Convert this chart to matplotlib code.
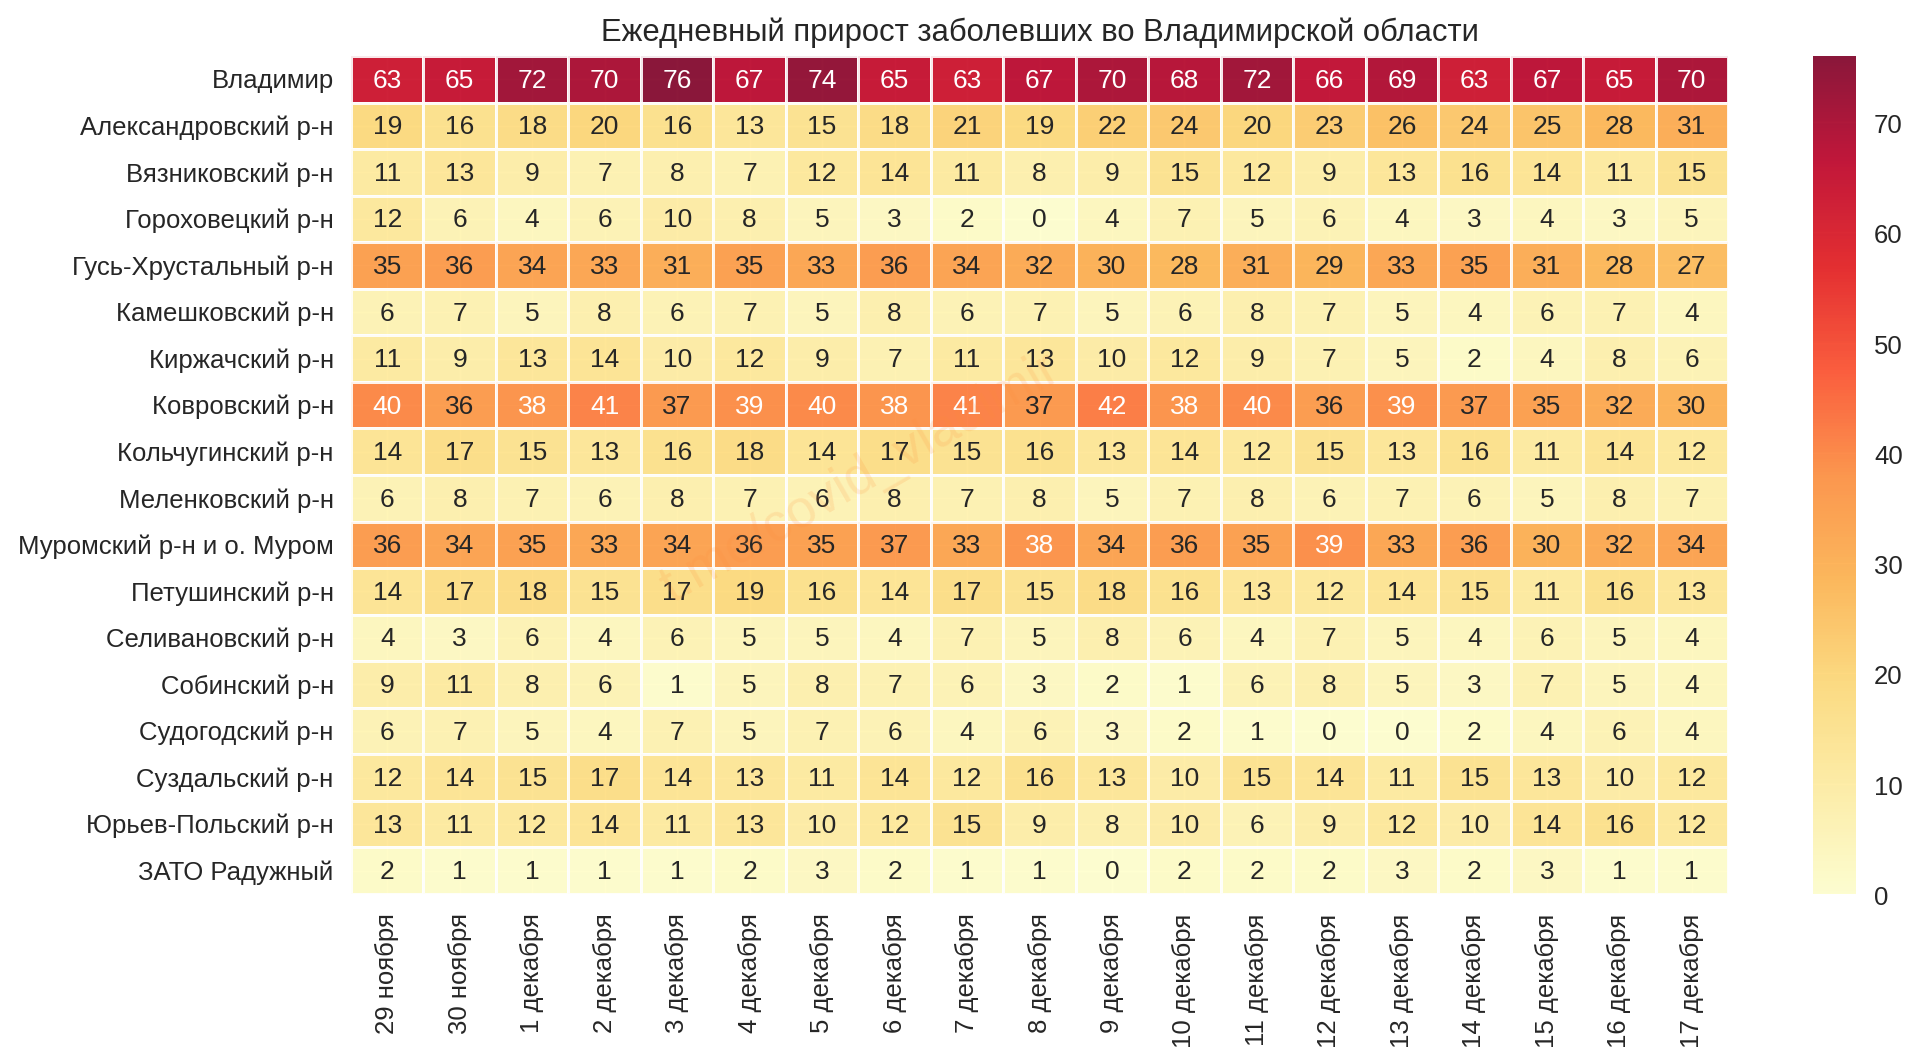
#!/usr/bin/env python3

import numpy as np
import seaborn as sns
from matplotlib import pyplot as plt
from matplotlib.transforms import ScaledTranslation

sns.set_theme(style="darkgrid")
plt.rcParams['font.family'] = ['Liberation Sans', 'DejaVu Sans']

dates = ["29 ноября", "30 ноября", "1 декабря", "2 декабря", "3 декабря", "4 декабря", "5 декабря",
         "6 декабря", "7 декабря", "8 декабря", "9 декабря", "10 декабря", "11 декабря", "12 декабря",
         "13 декабря", "14 декабря", "15 декабря", "16 декабря", "17 декабря"]

districts = ["Владимир", "Александровский р-н", "Вязниковский р-н", "Гороховецкий р-н",
             "Гусь-Хрустальный р-н", "Камешковский р-н", "Киржачский р-н", "Ковровский р-н",
             "Кольчугинский р-н", "Меленковский р-н", "Муромский р-н и о. Муром", "Петушинский р-н",
             "Селивановский р-н", "Собинский р-н", "Судогодский р-н", "Суздальский р-н",
             "Юрьев-Польский р-н", "ЗАТО Радужный"]

vladimir = [63, 65, 72, 70, 76, 67, 74, 65, 63, 67, 70, 68, 72, 66, 69, 63, 67, 65, 70]
aleksandrov = [19, 16, 18, 20, 16, 13, 15, 18, 21, 19, 22, 24, 20, 23, 26, 24, 25, 28, 31]
vyazniki = [11, 13, 9, 7, 8, 7, 12, 14, 11, 8, 9, 15, 12, 9, 13, 16, 14, 11, 15]
gorokhovets = [12, 6, 4, 6, 10, 8, 5, 3, 2, 0, 4, 7, 5, 6, 4, 3, 4, 3, 5]
gus = [35, 36, 34, 33, 31, 35, 33, 36, 34, 32, 30, 28, 31, 29, 33, 35, 31, 28, 27]
kameshkovo = [6, 7, 5, 8, 6, 7, 5, 8, 6, 7, 5, 6, 8, 7, 5, 4, 6, 7, 4]
kirzhach = [11, 9, 13, 14, 10, 12, 9, 7, 11, 13, 10, 12, 9, 7, 5, 2, 4, 8, 6]
kovrov = [40, 36, 38, 41, 37, 39, 40, 38, 41, 37, 42, 38, 40, 36, 39, 37, 35, 32, 30]
kolchugino = [14, 17, 15, 13, 16, 18, 14, 17, 15, 16, 13, 14, 12, 15, 13, 16, 11, 14, 12]
melenki = [6, 8, 7, 6, 8, 7, 6, 8, 7, 8, 5, 7, 8, 6, 7, 6, 5, 8, 7]
murom = [36, 34, 35, 33, 34, 36, 35, 37, 33, 38, 34, 36, 35, 39, 33, 36, 30, 32, 34]
petushki = [14, 17, 18, 15, 17, 19, 16, 14, 17, 15, 18, 16, 13, 12, 14, 15, 11, 16, 13]
selivanovo = [4, 3, 6, 4, 6, 5, 5, 4, 7, 5, 8, 6, 4, 7, 5, 4, 6, 5, 4]
sobinka = [9, 11, 8, 6, 1, 5, 8, 7, 6, 3, 2, 1, 6, 8, 5, 3, 7, 5, 4]
sudogda = [6, 7, 5, 4, 7, 5, 7, 6, 4, 6, 3, 2, 1, 0, 0, 2, 4, 6, 4]
suzdal = [12, 14, 15, 17, 14, 13, 11, 14, 12, 16, 13, 10, 15, 14, 11, 15, 13, 10, 12]
yuryev = [13, 11, 12, 14, 11, 13, 10, 12, 15, 9, 8, 10, 6, 9, 12, 10, 14, 16, 12]
raduzhny = [2, 1, 1, 1, 1, 2, 3, 2, 1, 1, 0, 2, 2, 2, 3, 2, 3, 1, 1]

values = np.array([vladimir, aleksandrov, vyazniki, gorokhovets, gus, kameshkovo, kirzhach, kovrov,
                   kolchugino, melenki, murom, petushki, selivanovo, sobinka, sudogda, suzdal,
                   yuryev, raduzhny])

W, H = 1920, 1064
fig = plt.figure(figsize=(W / 100, H / 100), dpi=100)

ax = fig.add_axes([351 / W, 1 - 894 / H, (1728 - 351) / W, (894 - 56) / H])
cax = fig.add_axes([1813 / W, 1 - 894 / H, 43 / W, (894 - 56) / H])

sns.heatmap(values, ax=ax, cbar_ax=cax, cmap="YlOrRd", annot=True, fmt="d", linewidths=2, alpha=0.9,
            annot_kws={"fontsize": 19}, xticklabels=dates, yticklabels=districts)

ax.set_title("Ежедневный прирост заболевших во Владимирской области", fontsize=22.3, pad=11)
ax.tick_params(axis='x', labelsize=18.5, rotation=90, pad=14, length=0)
ax.tick_params(axis='y', labelsize=18.5, rotation=0, pad=12.5, length=0)
cax.tick_params(labelsize=18.5, pad=13, length=0)

# text sits a little lower than matplotlib centres it
shift = ScaledTranslation(0, -2 / 100, fig.dpi_scale_trans)
small_shift = ScaledTranslation(0, -1.5 / 100, fig.dpi_scale_trans)
for label in ax.get_yticklabels():
    label.set_transform(label.get_transform() + shift)
for label in cax.get_yticklabels():
    label.set_transform(label.get_transform() + small_shift)
for label in ax.texts:
    label.set_transform(label.get_transform() + small_shift)

# watermark
fig.text(860 / W, 1 - 478 / H, "t.me/covid_vladimir", fontsize=38, color="#fd8d3c", alpha=0.16,
         rotation=30, ha="center", va="center")

fig.savefig("out.png", dpi=100)
